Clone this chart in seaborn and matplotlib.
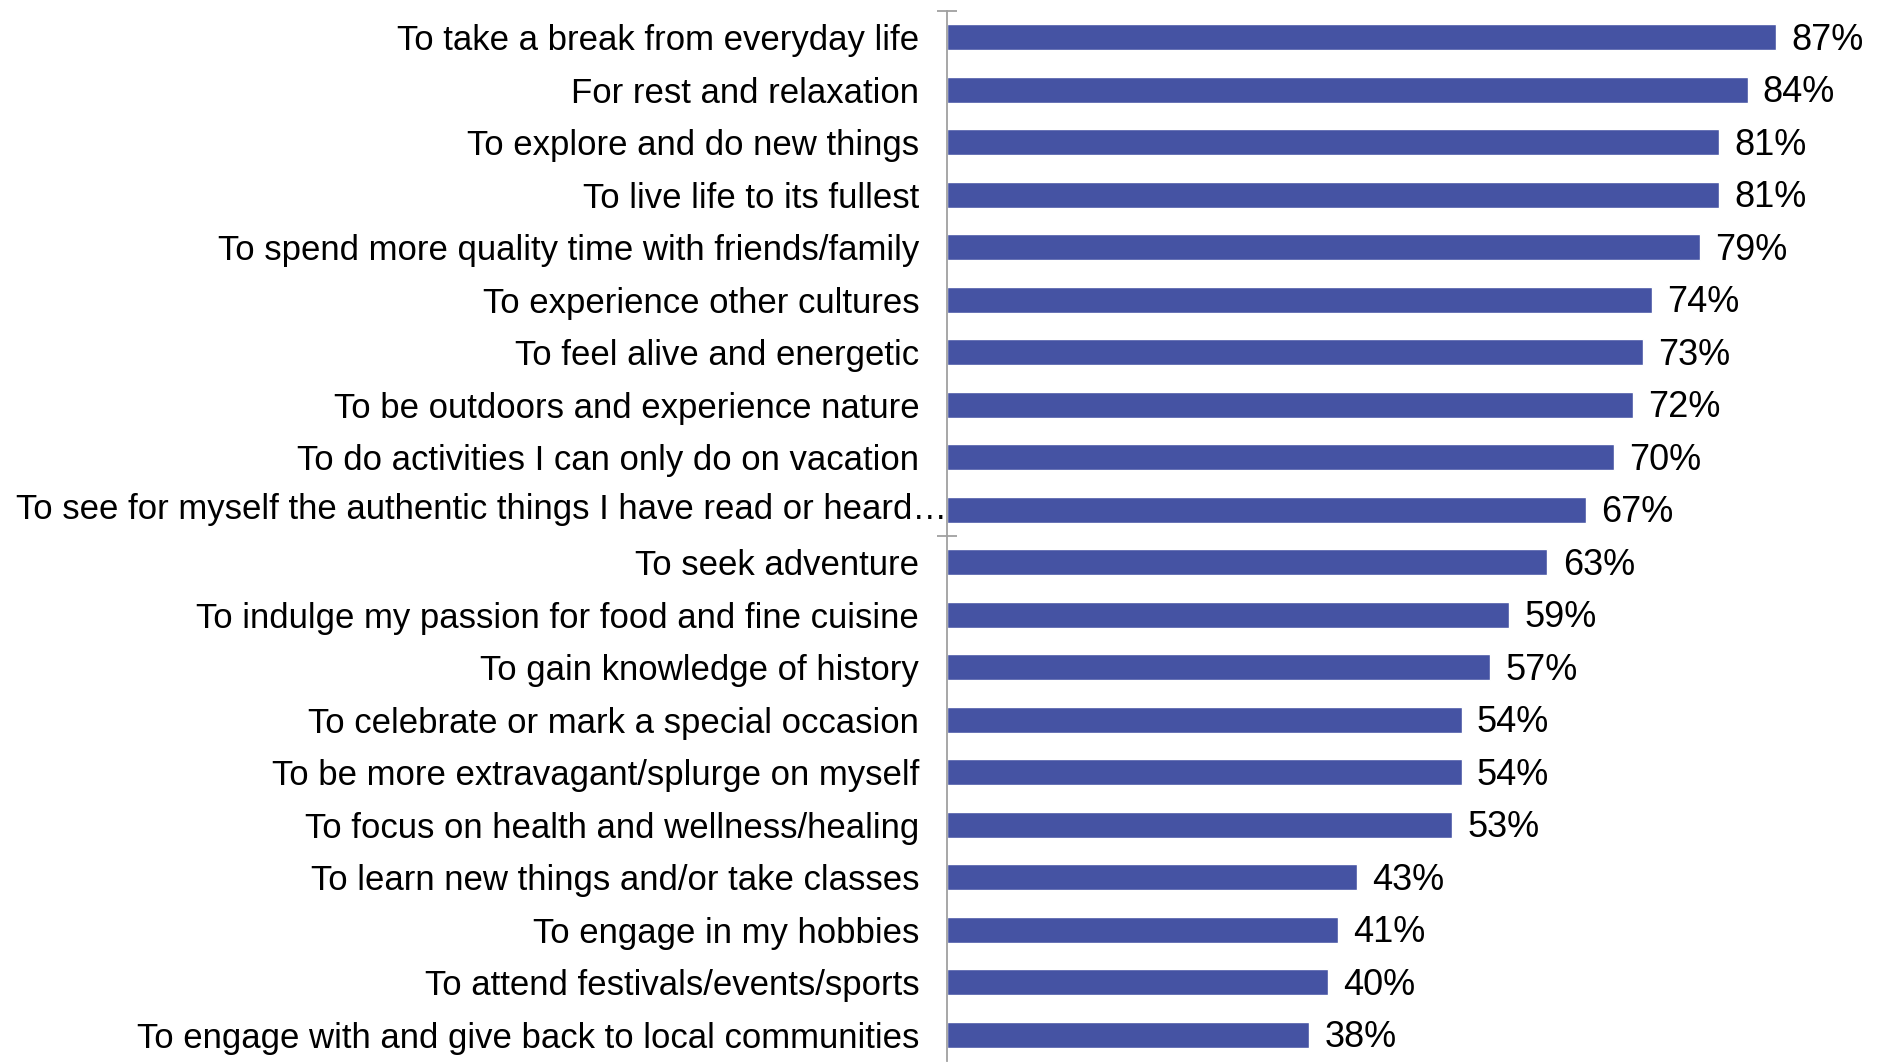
import matplotlib
matplotlib.use("Agg")
import matplotlib.pyplot as plt
import matplotlib.transforms as mtransforms
import seaborn as sns
import pandas as pd

reasons = [
    "To take a break from everyday life",
    "For rest and relaxation",
    "To explore and do new things",
    "To live life to its fullest",
    "To spend more quality time with friends/family",
    "To experience other cultures",
    "To feel alive and energetic",
    "To be outdoors and experience nature",
    "To do activities I can only do on vacation",
    "To see for myself the authentic things I have read or heard\u2026",
    "To seek adventure",
    "To indulge my passion for food and fine cuisine",
    "To gain knowledge of history",
    "To celebrate or mark a special occasion",
    "To be more extravagant/splurge on myself",
    "To focus on health and wellness/healing",
    "To learn new things and/or take classes",
    "To engage in my hobbies",
    "To attend festivals/events/sports",
    "To engage with and give back to local communities",
]
shares = [87, 84, 81, 81, 79, 74, 73, 72, 70, 67,
          63, 59, 57, 54, 54, 53, 43, 41, 40, 38]

df = pd.DataFrame({"reason": reasons, "share": shares})

sns.set_theme(style="white")
plt.rcParams["font.family"] = ["Liberation Sans", "DejaVu Sans"]

W, H = 1881, 1062
top_px, pitch_px = 11, 52.5
fig = plt.figure(figsize=(W / 100, H / 100), dpi=100)
ax_h = pitch_px * len(reasons)
ax = fig.add_axes([947 / W, 1 - (top_px + ax_h) / H, 1 - 947 / W, ax_h / H])

bar_color = "#4553A3"
sns.barplot(data=df, x="share", y="reason", orient="h", color=bar_color,
            width=0.5, saturation=1, ax=ax)

ax.set_xlim(0, 98)
ax.set_ylim(len(reasons) - 0.5, -0.5)
ax.set_xlabel("")
ax.set_ylabel("")
ax.xaxis.set_visible(False)
for s in ("top", "right", "bottom"):
    ax.spines[s].set_visible(False)
ax.spines["left"].set_color("#A0A0A0")
ax.spines["left"].set_linewidth(1.3)

label_size = 25
ax.tick_params(axis="y", which="major", left=True, length=0, pad=20,
               labelsize=label_size, labelcolor="black")
# divider ticks at the top of the axis and between the two halves of the list
ax.set_yticks([-0.5, 9.5], minor=True)
ax.tick_params(axis="y", which="minor", left=True, direction="inout",
               length=15, width=1.3, color="#A0A0A0")

# the longest category label runs right up to the axis line
long_idx = max(range(len(reasons)), key=lambda k: len(reasons[k]))
ax.set_yticks(range(len(reasons)),
              [r if k != long_idx else "" for k, r in enumerate(reasons)])
trans = mtransforms.blended_transform_factory(ax.transAxes, ax.transData)
ax.text(0, long_idx, reasons[long_idx], transform=trans, ha="right",
        va="center", fontsize=label_size, color="black", clip_on=False)

# value labels just right of each bar
for i, v in enumerate(shares):
    ax.annotate(f"{v}%", xy=(v, i), xytext=(11, -2),
                textcoords="offset points", va="center", ha="left",
                fontsize=26, color="black")

fig.savefig("out.png", dpi=100, facecolor="white")
